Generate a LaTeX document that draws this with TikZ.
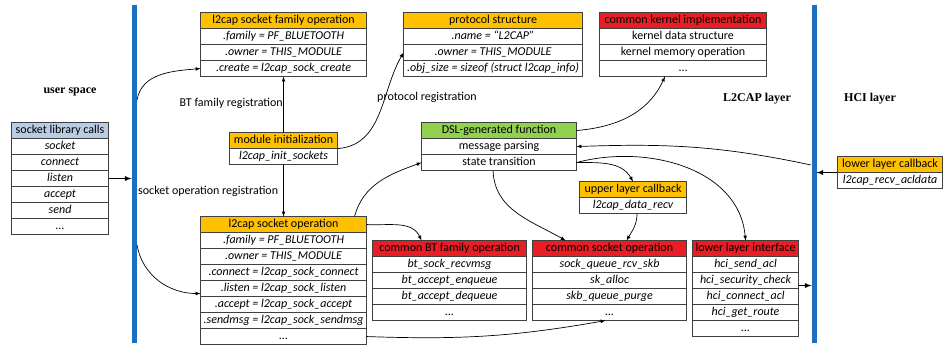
\documentclass[tikz,border=0pt]{standalone}
\usepackage{fontspec}
\setmainfont{Carlito}
\newfontfamily\layerfont{Liberation Serif}
\usetikzlibrary{arrows,matrix,positioning}

\newcommand\cellfont{\fontsize{12}{14}\selectfont}

\definecolor{hdrorange}{RGB}{255,192,0}
\definecolor{hdrred}{RGB}{232,30,36}
\definecolor{hdrgreen}{RGB}{146,208,80}
\definecolor{hdrblue}{RGB}{184,204,228}
\definecolor{barblue}{RGB}{28,110,190}
\definecolor{linegray}{RGB}{64,64,64}

\begin{document}
\begin{tikzpicture}[x=1pt, y=-1pt,
    tbl/.style={matrix of nodes, anchor=north west, inner sep=0pt, row sep=-0.7pt,
      nodes={draw=linegray, line width=0.7pt, outer sep=0pt, inner sep=1pt,
        minimum height=16pt, text height=9pt, text depth=3pt, font=\cellfont\itshape}},
    hdr/.style={row 1/.style={nodes={fill=#1, font=\cellfont}}},
    uprows/.style={nodes={font=\cellfont}},
    colw/.style={nodes={minimum width=#1}},
    layerbar/.style={fill=barblue, minimum width=5pt, minimum height=338pt, inner sep=0pt, outer sep=0pt},
    layerlabel/.style={font=\layerfont\bfseries\fontsize{12}{14}\selectfont},
    reglabel/.style={font=\cellfont, inner sep=0pt},
    conn/.style={-latex, line width=0.7pt},
    bigconn/.style={-latex, line width=1.3pt},
  ]

    \useasboundingbox (0,0) rectangle (943,347);

    %layer bars
    \node[layerbar] (ubar) at (134,174) {};
    \node[layerbar] (hbar) at (814,174) {};

    %layer labels
    \node[layerlabel] (userlbl) at (70,92) {user space};
    \node[layerlabel] (l2caplbl) at (757,99) {L2CAP layer};
    \node[layerlabel] (hcilbl) at (870,99) {HCI layer};

    %user space
    \matrix[tbl, hdr=hdrblue, colw=97pt] (calls) at (11,122) {
      socket library calls \\
      socket \\ connect \\ listen \\ accept \\ send \\ ... \\
    };

    %l2cap registration
    \matrix[tbl, hdr=hdrorange, colw=166pt] (famops) at (200,12) {
      l2cap socket family operation \\
      .family = PF\_BLUETOOTH \\
      .owner = THIS\_MODULE \\
      .create = l2cap\_sock\_create \\
    };
    \matrix[tbl, hdr=hdrorange, colw=108pt] (modinit) at (229,132) {
      module initialization \\
      l2cap\_init\_sockets \\
    };
    \matrix[tbl, hdr=hdrorange, colw=179pt] (proto) at (403,12) {
      protocol structure \\
      .name = “L2CAP” \\
      .owner = THIS\_MODULE \\
      .obj\_size = sizeof (struct l2cap\_info) \\
    };
    \matrix[tbl, hdr=hdrred, uprows, colw=167pt] (kernel) at (599,12) {
      common kernel implementation \\
      kernel data structure \\
      kernel memory operation \\
      ... \\
    };
    \matrix[tbl, hdr=hdrgreen, uprows, colw=155pt] (dsl) at (421,122) {
      DSL-generated function \\
      message parsing \\
      state transition \\
    };
    \matrix[tbl, hdr=hdrorange, colw=105pt] (lowcb) at (837,156) {
      lower layer callback \\
      l2cap\_recv\_acldata \\
    };

    %socket operations
    \matrix[tbl, hdr=hdrorange, colw=166pt] (sockops) at (200,216) {
      l2cap socket operation \\
      .family = PF\_BLUETOOTH \\
      .owner = THIS\_MODULE \\
      .connect = l2cap\_sock\_connect \\
      .listen = l2cap\_sock\_listen \\
      .accept = l2cap\_sock\_accept \\
      .sendmsg = l2cap\_sock\_sendmsg \\
      ... \\
    };
    \matrix[tbl, hdr=hdrred, colw=154pt] (btops) at (372,240) {
      common BT family operation \\
      bt\_sock\_recvmsg \\
      bt\_accept\_enqueue \\
      bt\_accept\_dequeue \\
      ... \\
    };
    \matrix[tbl, hdr=hdrred, colw=154pt] (sockcom) at (532,240) {
      common socket operation \\
      sock\_queue\_rcv\_skb \\
      sk\_alloc \\
      skb\_queue\_purge \\
      ... \\
    };
    \matrix[tbl, hdr=hdrorange, colw=107pt] (upcb) at (579,181) {
      upper layer callback \\
      l2cap\_data\_recv \\
    };
    \matrix[tbl, hdr=hdrred, colw=106pt] (lowif) at (692,240) {
      lower layer interface \\
      hci\_send\_acl \\
      hci\_security\_check \\
      hci\_connect\_acl \\
      hci\_get\_route \\
      ... \\
    };

    %registration labels
    \node[reglabel, anchor=east] (btreg) at (283,103) {BT family registration};
    \node[reglabel, anchor=west] (protoreg) at (377,97) {protocol registration};
    \node[reglabel, anchor=west] (sockreg) at (138,191) {socket operation registration};

    %points on the bars
    \coordinate (ub1) at (137,100);
    \coordinate (ub2) at (137,245);
    \coordinate (hb1) at (811,165);
    \coordinate (listenpt) at ([yshift=-5pt]sockops-5-1.west);
    \coordinate (hcisec) at ([yshift=-5pt]lowif-3-1.east);

    %calls into the kernel
    \draw[bigconn] (calls-4-1.east) -- (calls-4-1.east -| ubar.west);
    \draw[conn] (ub1) to[out=80,in=185] (famops-4-1.west);
    \draw[conn] (ub2) to[out=-80,in=180] (listenpt);

    %registration
    \draw[conn] (modinit-1-1.north) -- (famops-4-1.south);
    \draw[conn] (modinit-2-1.south) -- (sockops-1-1.north);
    \draw[conn] (modinit.east) to[out=5,in=240] (proto-3-1.west);

    %DSL function
    \draw[conn] ([xshift=-12pt]sockops-1-1.north east) to[out=75,in=200] (dsl-3-1.west);
    \draw[conn] (dsl-1-1.east) to[out=5,in=-115] ([xshift=-18pt]kernel-4-1.south);
    \draw[conn] (hb1) to[out=168,in=2] (dsl-2-1.east);
    \draw[conn] (dsl-3-1.east) to[out=0,in=120] (upcb-1-1.north);
    \draw[conn] (dsl-3-1.east) to[out=15,in=95] (lowif-1-1.north);
    \draw[conn] ([xshift=-6pt]dsl-3-1.south) to[out=-88,in=150] ([xshift=-44pt]sockcom-1-1.north);
    \draw[conn] ([xshift=4pt]upcb-2-1.south) to[out=-90,in=60] ([xshift=17pt]sockcom-1-1.north);

    %common operations
    \draw[conn] (sockops-1-1.east) to[out=-3,in=115] ([xshift=-28pt]btops-1-1.north);
    \draw[conn] (sockops-8-1.east) to[out=-2,in=190] ([xshift=-4pt]sockcom-5-1.south);

    %HCI layer
    \draw[bigconn] (hcisec) -- (hcisec -| hbar.west);
    \draw[bigconn] (lowcb.west) -- (lowcb.west -| hbar.east);

\end{tikzpicture}
\end{document}
